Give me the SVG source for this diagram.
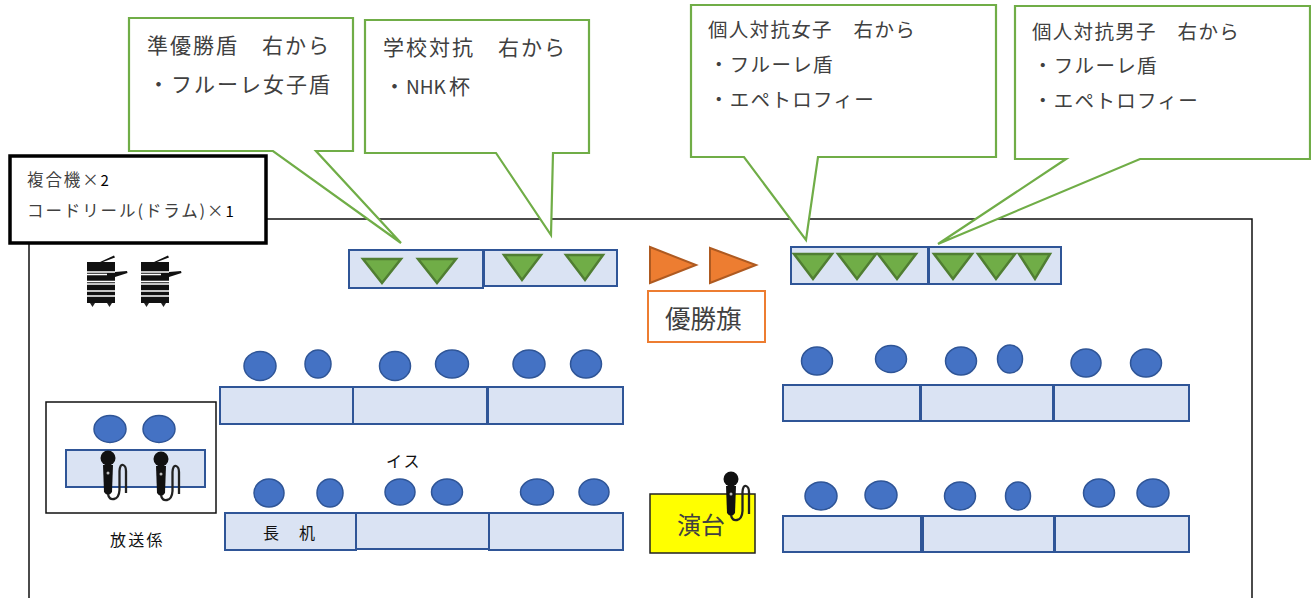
<svg xmlns="http://www.w3.org/2000/svg" width="1311" height="598" viewBox="0 0 1311 598">
<style>
text{font-family:"Noto Sans CJK JP","Noto Sans",sans-serif;fill:#404040}
.t{fill:#dae3f3;stroke:#2f5597;stroke-width:2}
.s{fill:#4472c4;stroke:#2f5597;stroke-width:1.5}
.g{fill:#70ad47;stroke:#507e32;stroke-width:2.5}
.o{fill:#ed7d31;stroke:#ae5a21;stroke-width:2}
.c{fill:#fff;stroke:#70ad47;stroke-width:2.2}
.d{fill:#111;font-size:16px;letter-spacing:2px}
.l1{font-size:21px;letter-spacing:2px}
.l2{font-size:19.500px;letter-spacing:1.300px}
.n{font-size:16.500px;letter-spacing:1.900px}
</style>
<defs>
<g id="mic"><circle cx="0" cy="0" r="7.500" fill="#111"/><path d="M-5 7L5 7L4 34Q0 40-4 34Z" fill="#111"/><circle cx="0" cy="15" r="1.500" fill="#bbb"/><path d="M0 36Q1 42 6 41Q11 40 11.500 32L11.500 13Q12 6 15 7Q18 8 18 13L18 35" fill="none" stroke="#222" stroke-width="2.300"/></g>
<g id="printer"><path d="M0 7L13 7L27 0.500L28 2.500L16 7L28 7L28 17L40 16L40.500 18L28 22L28 48L0 48Z" fill="#111"/><path d="M0 17H28M0 19.500H20M0 26.500H28M0 29H28M0 36H28M0 41H28" stroke="#fff" stroke-width="1.500" fill="none"/><path d="M3 48h5l-2.500 4ZM20 48h5l-2.500 4Z" fill="#222"/></g>
</defs>
<g id="room"><path d="M29 598V219H1252V598" fill="none" stroke="#111" stroke-width="1.500"/></g>
<g id="callout-1"><path class="c" d="M129 18H353V151H316L401 243L273 151H129Z"/><text x="147" y="53" class="l1">準優勝盾　右から</text><text x="148" y="92" class="l1">・フルーレ女子盾</text></g>
<g id="callout-2"><path class="c" d="M365 20H589V153H553L551 235L496 153H365Z"/><text x="383" y="55" class="l1">学校対抗　右から</text><text x="384" y="94" class="l1"><tspan letter-spacing="0">・</tspan><tspan x="406" font-size="19" letter-spacing="0">NHK</tspan><tspan x="449">杯</tspan></text></g>
<g id="callout-3"><path class="c" d="M691 5H996V157H818L806 240L744 157H691Z"/><text x="708" y="37" class="l2">個人対抗女子　右から</text><text x="709" y="72" class="l2">・フルーレ盾</text><text x="709" y="107" class="l2">・エペトロフィー</text></g>
<g id="callout-4"><path class="c" d="M1015 6H1310V159H1140L938 244L1066 159H1015Z"/><text x="1032" y="39" class="l2">個人対抗男子　右から</text><text x="1033" y="73" class="l2">・フルーレ盾</text><text x="1033" y="108" class="l2">・エペトロフィー</text></g>
<g id="equipment-note"><rect x="10" y="156" width="256" height="87" fill="#fff" stroke="#000" stroke-width="3.500"/><text x="27" y="186" class="n">複合機×<tspan fill="#000" font-size="15" letter-spacing="0">2</tspan></text><text x="27" y="217" class="n">コードリール(ドラム)×<tspan fill="#000" font-size="15" letter-spacing="0">1</tspan></text></g>
<g id="printers"><use href="#printer" x="87" y="255"/><use href="#printer" x="141" y="255"/></g>
<g id="shield-table-1"><rect class="t" x="349" y="250" width="134" height="38"/><path class="g" d="M363 259H401L382 283Z"/><path class="g" d="M418 259H456L437 283Z"/></g>
<g id="shield-table-2"><rect class="t" x="484" y="250" width="133" height="36"/><path class="g" d="M504 255H541L522 280Z"/><path class="g" d="M566 255H603L585 280Z"/></g>
<g id="shield-table-3"><rect class="t" x="791" y="247" width="137" height="37"/><path class="g" d="M794 254H832L813 279Z"/><path class="g" d="M838 254H876L857 279Z"/><path class="g" d="M878 254H916L897 279Z"/></g>
<g id="shield-table-4"><rect class="t" x="929" y="247" width="132" height="37"/><path class="g" d="M934 254H972L953 279Z"/><path class="g" d="M978 254H1015L996 279Z"/><path class="g" d="M1019 254H1050L1035 279Z"/></g>
<g id="flags"><path class="o" d="M650 247L696 265L650 283Z"/><path class="o" d="M710 248L756 265L710 283Z"/></g>
<g id="flag-label"><rect x="648" y="291" width="117" height="51" fill="#fff" stroke="#ed7d31" stroke-width="2"/><text x="665" y="328" font-size="25.500">優勝旗</text></g>
<g id="broadcast"><rect x="46" y="402" width="170" height="111" fill="#fff" stroke="#111" stroke-width="1.500"/><rect class="t" x="66" y="450" width="139" height="37"/><ellipse class="s" cx="110" cy="429" rx="16" ry="13.500"/><ellipse class="s" cx="159" cy="429" rx="16" ry="13.500"/><use href="#mic" x="108" y="458"/><use href="#mic" x="161" y="459"/></g>
<text x="110" y="546" class="d" style="letter-spacing:2.300px">放送係</text>
<g id="tables-left"><rect class="t" x="220" y="387" width="133" height="37"/><rect class="t" x="353" y="387" width="134" height="37"/><rect class="t" x="488" y="387" width="135" height="37"/><rect class="t" x="225" y="513" width="131" height="37"/><rect class="t" x="356" y="513" width="135" height="36"/><rect class="t" x="489" y="513" width="134" height="37"/><text x="263" y="539" class="d">長　机</text><text x="386" y="467" class="d">イス</text></g>
<g id="tables-right"><rect class="t" x="783" y="385" width="137" height="36"/><rect class="t" x="921" y="385" width="132" height="36"/><rect class="t" x="1054" y="385" width="135" height="36"/><rect class="t" x="783" y="516" width="138" height="36"/><rect class="t" x="923" y="516" width="131" height="36"/><rect class="t" x="1055" y="516" width="134" height="36"/></g>
<g id="seats">
<ellipse class="s" cx="260" cy="366" rx="16" ry="14.500"/><ellipse class="s" cx="318" cy="364" rx="13" ry="14"/><ellipse class="s" cx="395" cy="366" rx="15.500" ry="14.500"/><ellipse class="s" cx="452" cy="364" rx="16.500" ry="14"/><ellipse class="s" cx="529" cy="364" rx="16" ry="14"/><ellipse class="s" cx="586" cy="364" rx="15.500" ry="14"/>
<ellipse class="s" cx="269" cy="493" rx="15" ry="14"/><ellipse class="s" cx="330" cy="493" rx="13" ry="14"/><ellipse class="s" cx="400" cy="492" rx="15" ry="13"/><ellipse class="s" cx="447" cy="492" rx="15.500" ry="13"/><ellipse class="s" cx="537" cy="492" rx="16.500" ry="13"/><ellipse class="s" cx="594" cy="492" rx="15" ry="13"/>
<ellipse class="s" cx="817" cy="361" rx="15.500" ry="14"/><ellipse class="s" cx="891" cy="359" rx="15.500" ry="13.500"/><ellipse class="s" cx="961" cy="361" rx="15.500" ry="14"/><ellipse class="s" cx="1010" cy="359" rx="12.500" ry="14"/><ellipse class="s" cx="1086" cy="363" rx="15" ry="14"/><ellipse class="s" cx="1146" cy="363" rx="15.500" ry="14"/>
<ellipse class="s" cx="821" cy="496" rx="16" ry="14"/><ellipse class="s" cx="881" cy="495" rx="16" ry="14"/><ellipse class="s" cx="960" cy="496" rx="15.500" ry="14"/><ellipse class="s" cx="1018" cy="496" rx="12.500" ry="14"/><ellipse class="s" cx="1099" cy="493" rx="15.500" ry="14"/><ellipse class="s" cx="1153" cy="493" rx="16" ry="14"/>
</g>
<g id="podium"><rect x="650" y="494" width="105" height="59" fill="#ff0" stroke="#222" stroke-width="1.500"/><text x="677" y="534" font-size="24">演台</text><use href="#mic" x="731" y="479"/></g>
</svg>
